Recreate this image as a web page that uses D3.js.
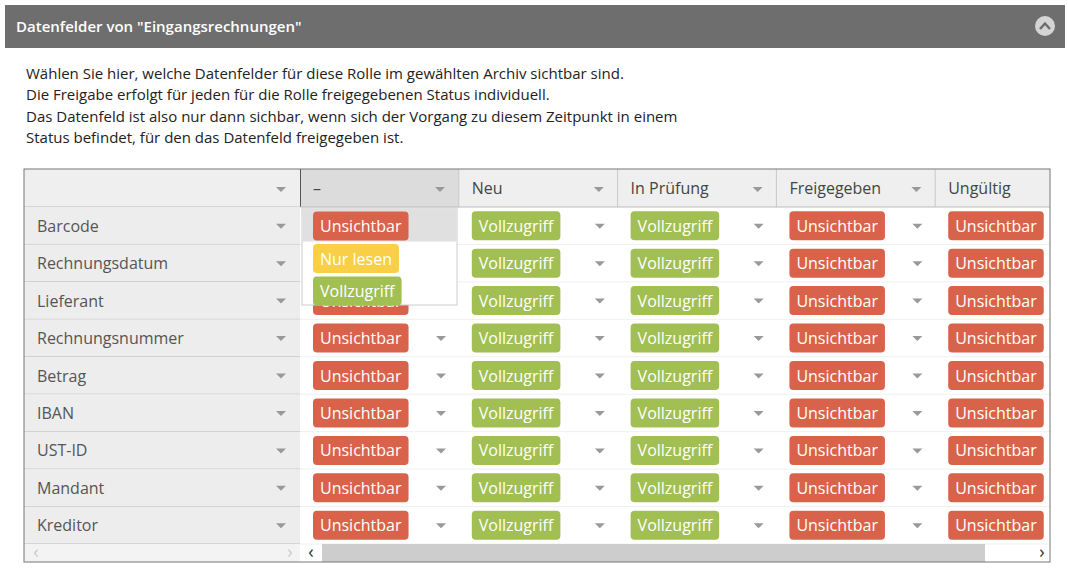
<!DOCTYPE html>
<html><head><meta charset="utf-8">
<script src="https://cdn.jsdelivr.net/npm/d3@7"></script>
<style>body{margin:0;background:#fff}text{font-family:"Open Sans",sans-serif}</style>
</head><body><div id="tab"></div>
<script>
// Daten
const title = 'Datenfelder von "Eingangsrechnungen"';
const intro = [
  "Wählen Sie hier, welche Datenfelder für diese Rolle im gewählten Archiv sichtbar sind.",
  "Die Freigabe erfolgt für jeden für die Rolle freigegebenen Status individuell.",
  "Das Datenfeld ist also nur dann sichbar, wenn sich der Vorgang zu diesem Zeitpunkt in einem",
  "Status befindet, für den das Datenfeld freigegeben ist."
];
const columns = ["–", "Neu", "In Prüfung", "Freigegeben", "Ungültig"];
const fields = ["Barcode", "Rechnungsdatum", "Lieferant", "Rechnungsnummer", "Betrag", "IBAN", "UST-ID", "Mandant", "Kreditor"];
const dashCol = ["Unsichtbar", "Unsichtbar", "Unsichtbar", "Unsichtbar", "Unsichtbar", "Unsichtbar", "Unsichtbar", "Unsichtbar", "Unsichtbar"];
const neuCol = ["Vollzugriff", "Vollzugriff", "Vollzugriff", "Vollzugriff", "Vollzugriff", "Vollzugriff", "Vollzugriff", "Vollzugriff", "Vollzugriff"];
const pruefCol = ["Vollzugriff", "Vollzugriff", "Vollzugriff", "Vollzugriff", "Vollzugriff", "Vollzugriff", "Vollzugriff", "Vollzugriff", "Vollzugriff"];
const freiCol = ["Unsichtbar", "Unsichtbar", "Unsichtbar", "Unsichtbar", "Unsichtbar", "Unsichtbar", "Unsichtbar", "Unsichtbar", "Unsichtbar"];
const ungCol = ["Unsichtbar", "Unsichtbar", "Unsichtbar", "Unsichtbar", "Unsichtbar", "Unsichtbar", "Unsichtbar", "Unsichtbar", "Unsichtbar"];
const options = ["Unsichtbar", "Nur lesen", "Vollzugriff"];

const values = [dashCol, neuCol, pruefCol, freiCol, ungCol];
const color = d3.scaleOrdinal(options, ["#d9634a", "#f8cf47", "#a1bf53"]);

const width = 1068, height = 571;
const svg = d3.select("#tab").append("svg").attr("width", width).attr("height", height);

// Kopfzeile
svg.append("rect").attr("x", 5).attr("y", 5).attr("width", 1060).attr("height", 43).attr("fill", "#6e6e6e");
svg.append("text").attr("x", 16).attr("y", 32).attr("fill", "#fff").attr("font-size", 15).attr("font-weight", 600).text(title);
svg.append("circle").attr("cx", 1045).attr("cy", 26).attr("r", 10).attr("fill", "#d4d4d4");
svg.append("path").attr("d", "M1040,29 L1045,23.5 L1050,29").attr("fill", "none").attr("stroke", "#6e6e6e").attr("stroke-width", 2.5);

svg.selectAll(".intro").data(intro).join("text")
  .attr("x", 26).attr("y", (d, i) => 79 + i * 21.3)
  .attr("font-size", 15).attr("fill", "#222").text(d => d);

// Tabelle
const tLeft = 24, tRight = 1050, tTop = 169, headH = 38, tBottom = 544;
const x = d3.scaleBand(columns, [300, 300 + 5 * 158.8]);
const y = d3.scaleBand(fields, [tTop + headH, tBottom]);

const defs = svg.append("defs");
defs.append("clipPath").attr("id", "clip").append("rect").attr("x", 300).attr("y", tTop).attr("width", tRight - 300).attr("height", tBottom - tTop);

const arrow = (g, cx, cy) => g.append("path")
  .attr("d", `M${cx - 5},${cy - 2} L${cx + 5},${cy - 2} L${cx},${cy + 3}Z`).attr("fill", "#999");

// Kopf
svg.append("rect").attr("x", tLeft).attr("y", tTop).attr("width", tRight - tLeft).attr("height", headH).attr("fill", "#efefef");
arrow(svg, 281, 189);
const body = svg.append("g").attr("clip-path", "url(#clip)");
columns.forEach((c, i) => {
  const x0 = x(c);
  body.append("rect").attr("x", x0).attr("y", tTop).attr("width", x.bandwidth()).attr("height", headH)
    .attr("fill", i === 0 ? "#dcdcdc" : "#efefef");
  body.append("line").attr("x1", x0).attr("x2", x0).attr("y1", tTop).attr("y2", tTop + headH)
    .attr("stroke", i === 0 ? "#555" : "#c8c8c8").attr("stroke-width", i === 0 ? 2 : 1);
  body.append("text").attr("x", x0 + 13).attr("y", tTop + 25).attr("font-size", 16).attr("fill", "#444").text(c);
  arrow(body, x0 + 140, 189);
});
svg.append("line").attr("x1", tLeft).attr("x2", tRight).attr("y1", tTop + headH).attr("y2", tTop + headH).attr("stroke", "#bbb");

function badge(g, label, bx, cy) {
  const t = g.append("text").attr("x", bx + 7).attr("y", cy + 6).attr("font-size", 16).attr("fill", "#fff").text(label);
  const w = t.node().getComputedTextLength() + 14;
  g.insert("rect", () => t.node()).attr("x", bx).attr("y", cy - 14.5).attr("width", w).attr("height", 29).attr("rx", 4)
    .attr("fill", color(label));
}

// Zeilen
fields.forEach((f, r) => {
  const y0 = y(f), cy = y0 + y.bandwidth() / 2;
  svg.append("rect").attr("x", tLeft).attr("y", y0).attr("width", 276).attr("height", y.bandwidth()).attr("fill", "#ededed");
  svg.append("line").attr("x1", tLeft).attr("x2", 300).attr("y1", y0 + y.bandwidth()).attr("y2", y0 + y.bandwidth()).attr("stroke", "#bbb");
  svg.append("line").attr("x1", 300).attr("x2", tRight).attr("y1", y0 + y.bandwidth()).attr("y2", y0 + y.bandwidth()).attr("stroke", "#f0f0f0");
  svg.append("text").attr("x", 37).attr("y", cy + 6).attr("font-size", 16).attr("fill", "#555").text(f);
  arrow(svg, 281, cy);
  columns.forEach((c, i) => {
    badge(body, values[i][r], x(c) + 13, cy);
    arrow(body, x(c) + 141, cy);
  });
});

// Dropdown
const dd = svg.append("g");
dd.append("rect").attr("x", 302).attr("y", 208).attr("width", 155).attr("height", 97).attr("fill", "#fff").attr("stroke", "#ccc");
dd.append("rect").attr("x", 302.5).attr("y", 208.5).attr("width", 154).attr("height", 33).attr("fill", "#e0e0e0");
options.forEach((o, i) => badge(dd, o, 313, 226 + i * 32.5));

// Scrollleiste
svg.append("rect").attr("x", tLeft).attr("y", tBottom).attr("width", 276).attr("height", 18).attr("fill", "#f3f3f3");
svg.append("rect").attr("x", 322).attr("y", tBottom).attr("width", 663).attr("height", 18).attr("fill", "#cdcdcd");
[[36, "‹", "#ccc"], [290, "›", "#ccc"], [311, "‹", "#333"], [1042, "›", "#333"]].forEach(([tx, s, c]) =>
  svg.append("text").attr("x", tx).attr("y", tBottom + 14).attr("text-anchor", "middle").attr("font-size", 18).attr("fill", c).text(s));

// Rahmen
svg.append("rect").attr("x", tLeft).attr("y", tTop).attr("width", tRight - tLeft).attr("height", 562 - tTop)
  .attr("fill", "none").attr("stroke", "#777");
</script></body></html>
